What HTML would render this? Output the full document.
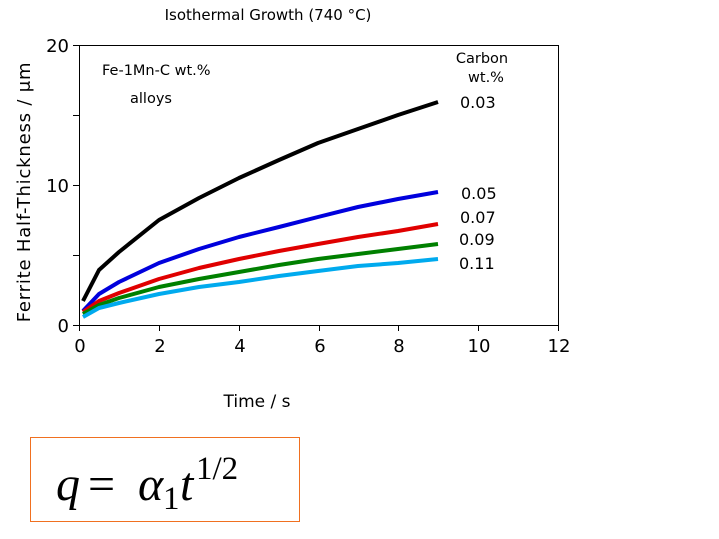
<!DOCTYPE html>
<html><head><style>
body{margin:0;background:#fff;width:719px;height:539px;overflow:hidden}
svg{display:block}
.s{font-family:"DejaVu Sans","Liberation Sans",sans-serif;fill:#000}
.m{font-family:"Liberation Serif","DejaVu Serif",serif;fill:#000}
</style></head><body>
<svg width="719" height="539" viewBox="0 0 719 539">
<text class="s" x="268" y="20" font-size="15" text-anchor="middle">Isothermal Growth (740  °C)</text>
<rect x="79.5" y="45.5" width="479" height="280" fill="none" stroke="#000" stroke-width="1"/>
<g stroke="#000" stroke-width="1">
<line x1="73" y1="45.5" x2="79" y2="45.5"/><line x1="73" y1="115.5" x2="79" y2="115.5"/>
<line x1="73" y1="185.5" x2="79" y2="185.5"/><line x1="73" y1="255.5" x2="79" y2="255.5"/>
<line x1="73" y1="325.5" x2="79" y2="325.5"/>
<line x1="79.5" y1="325" x2="79.5" y2="331"/><line x1="159.5" y1="325" x2="159.5" y2="331"/>
<line x1="239.5" y1="325" x2="239.5" y2="331"/><line x1="319.5" y1="325" x2="319.5" y2="331"/>
<line x1="398.5" y1="325" x2="398.5" y2="331"/><line x1="478.5" y1="325" x2="478.5" y2="331"/>
<line x1="558.5" y1="325" x2="558.5" y2="331"/>
</g>
<g class="s" font-size="18" text-anchor="end">
<text x="69" y="52">20</text><text x="69" y="192">10</text><text x="69" y="332">0</text>
</g>
<g class="s" font-size="18" text-anchor="middle">
<text x="80" y="352">0</text><text x="160" y="352">2</text><text x="240" y="352">4</text>
<text x="320" y="352">6</text><text x="399" y="352">8</text><text x="479" y="352">10</text><text x="559" y="352">12</text>
</g>
<text class="s" x="257" y="407" font-size="17" text-anchor="middle">Time / s</text>
<text class="s" transform="translate(30,192) rotate(-90)" font-size="18" text-anchor="middle" letter-spacing="0.8">Ferrite Half-Thickness /   μm</text>
<text class="s" x="102" y="75" font-size="14.5">Fe-1Mn-C wt.%</text>
<text class="s" x="130" y="103" font-size="14.5">alloys</text>
<text class="s" x="482" y="63" font-size="14.5" text-anchor="middle">Carbon</text>
<text class="s" x="486" y="82" font-size="14.5" text-anchor="middle">wt.%</text>
<g class="s" font-size="16">
<text x="460" y="108">0.03</text><text x="461" y="199">0.05</text><text x="460" y="223">0.07</text>
<text x="459" y="245">0.09</text><text x="459" y="269">0.11</text>
</g>
<g fill="none" stroke-width="4" stroke-linejoin="round">
<polyline stroke="#000" points="83,301 99,270 119,252 159,220 199,198 239,178 279,160 318,143 358,129 398,115 438,102"/>
<polyline stroke="#0000dd" points="83,311 99,294 119,282 159,263 199,249 239,237 279,227 318,217 358,207 398,199 438,192"/>
<polyline stroke="#e00000" points="83,312 99,301 119,293 159,279 199,268 239,259 279,251 318,244 358,237 398,231 438,224"/>
<polyline stroke="#008000" points="83,314 99,305 119,298 159,287 199,279 239,272 279,265 318,259 358,254 398,249 438,244"/>
<polyline stroke="#00aaee" points="83,317 99,308 119,303 159,294 199,287 239,282 279,276 318,271 358,266 398,263 438,259"/>
</g>
<rect x="30.5" y="437.5" width="269" height="84" fill="none" stroke="#f07020" stroke-width="1"/>
<text class="m" x="56" y="500" font-size="48" font-style="italic">q</text>
<text class="m" x="88" y="500" font-size="48">=</text>
<text class="m" x="138" y="500" font-size="48" font-style="italic">α</text>
<text class="m" x="163" y="509" font-size="33">1</text>
<text class="m" x="180" y="500" font-size="48" font-style="italic">t</text>
<text class="m" x="196" y="479" font-size="33">1/2</text>
</svg>
</body></html>
